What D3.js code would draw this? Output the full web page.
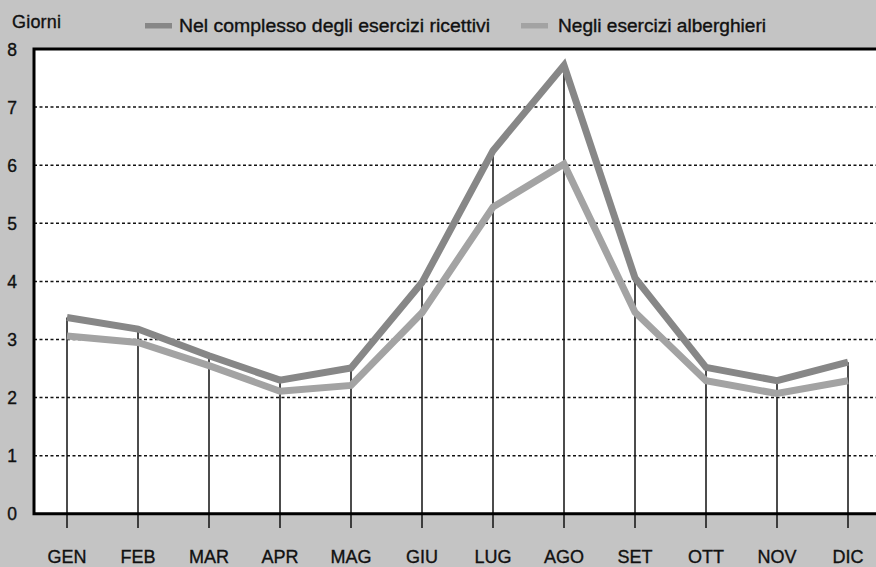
<!DOCTYPE html>
<html><head><meta charset="utf-8">
<script src="https://cdn.jsdelivr.net/npm/d3@7"></script>
<style>body{margin:0;background:#c4c4c4;}svg{display:block;font-family:"Liberation Sans",Arial,sans-serif;}
text{stroke:#111;stroke-width:0.35px;}</style>
</head><body><svg id="c" width="876" height="567"></svg>
<script>
const months = ["GEN","FEB","MAR","APR","MAG","GIU","LUG","AGO","SET","OTT","NOV","DIC"];
const complesso = [3.38,3.18,2.72,2.3,2.51,3.98,6.25,7.72,4.06,2.52,2.29,2.61];
const alberghieri = [3.06,2.95,2.55,2.11,2.21,3.46,5.28,6.02,3.47,2.29,2.07,2.29];
const yTicks = [0,1,2,3,4,5,6,7,8];
const seriesNames = ["Nel complesso degli esercizi ricettivi","Negli esercizi alberghieri"];
const colors = ["#878787","#a3a3a3"];

const svg = d3.select("#c");
const pLeft = 34, pTop = 49, pRight = 876, pBottom = 513.8;
const x = d3.scalePoint().domain(months).range([67,848]);
const y = d3.scaleLinear().domain([0,8]).range([pBottom, pTop]);

svg.append("rect").attr("width",876).attr("height",567).attr("fill","#c4c4c4");

// plot area
svg.append("rect").attr("x",pLeft).attr("y",pTop).attr("width",pRight-pLeft).attr("height",pBottom-pTop).attr("fill","#ffffff");

// gridlines
svg.append("g").selectAll("line").data(yTicks.filter(d=>d>0&&d<8)).join("line")
  .attr("x1",pLeft).attr("x2",pRight).attr("y1",d=>y(d)).attr("y2",d=>y(d))
  .attr("stroke","#111").attr("stroke-width",1.5).attr("stroke-dasharray","3,2.5");

// drop lines
svg.append("g").selectAll("line").data(months).join("line")
  .attr("x1",d=>x(d)).attr("x2",d=>x(d))
  .attr("y1",(d,i)=>y(Math.max(complesso[i],alberghieri[i])))
  .attr("y2",528).attr("stroke","#111").attr("stroke-width",1.5);

// borders
svg.append("path").attr("d",`M${pRight},${pTop}H${pLeft}V${pBottom}H${pRight}`)
  .attr("fill","none").attr("stroke","#000").attr("stroke-width",3);

// y axis labels
svg.append("g").selectAll("text").data(yTicks).join("text")
  .attr("x",12).attr("y",d=>y(d)+6.5).attr("text-anchor","middle")
  .attr("font-size",17.5).attr("fill","#111").text(d=>d);

// x labels
svg.append("g").selectAll("text").data(months).join("text")
  .attr("x",d=>x(d)).attr("y",562.5).attr("text-anchor","middle")
  .attr("font-size",18).attr("fill","#111").text(d=>d);

// lines
const line = d3.line().x((d,i)=>x(months[i])).y(d=>y(d));
[complesso, alberghieri].forEach((s,k)=>{
  svg.append("path").datum(s).attr("d",line).attr("fill","none")
    .attr("stroke",colors[k]).attr("stroke-width",7).attr("stroke-linejoin","miter");
});

// title
svg.append("text").attr("x",12).attr("y",28).attr("font-size",18).attr("fill","#111")
  .attr("textLength",49).text("Giorni");

// legend
const legX = [145,521], legTX = [179,558], legW = [311, 208];
seriesNames.forEach((n,k)=>{
  svg.append("rect").attr("x",legX[k]).attr("y",23).attr("width",27).attr("height",5.5).attr("fill",colors[k]);
  svg.append("text").attr("x",legTX[k]).attr("y",32).attr("font-size",18).attr("fill","#111")
    .attr("textLength",legW[k]).attr("lengthAdjust","spacingAndGlyphs").text(n);
});
</script></body></html>
